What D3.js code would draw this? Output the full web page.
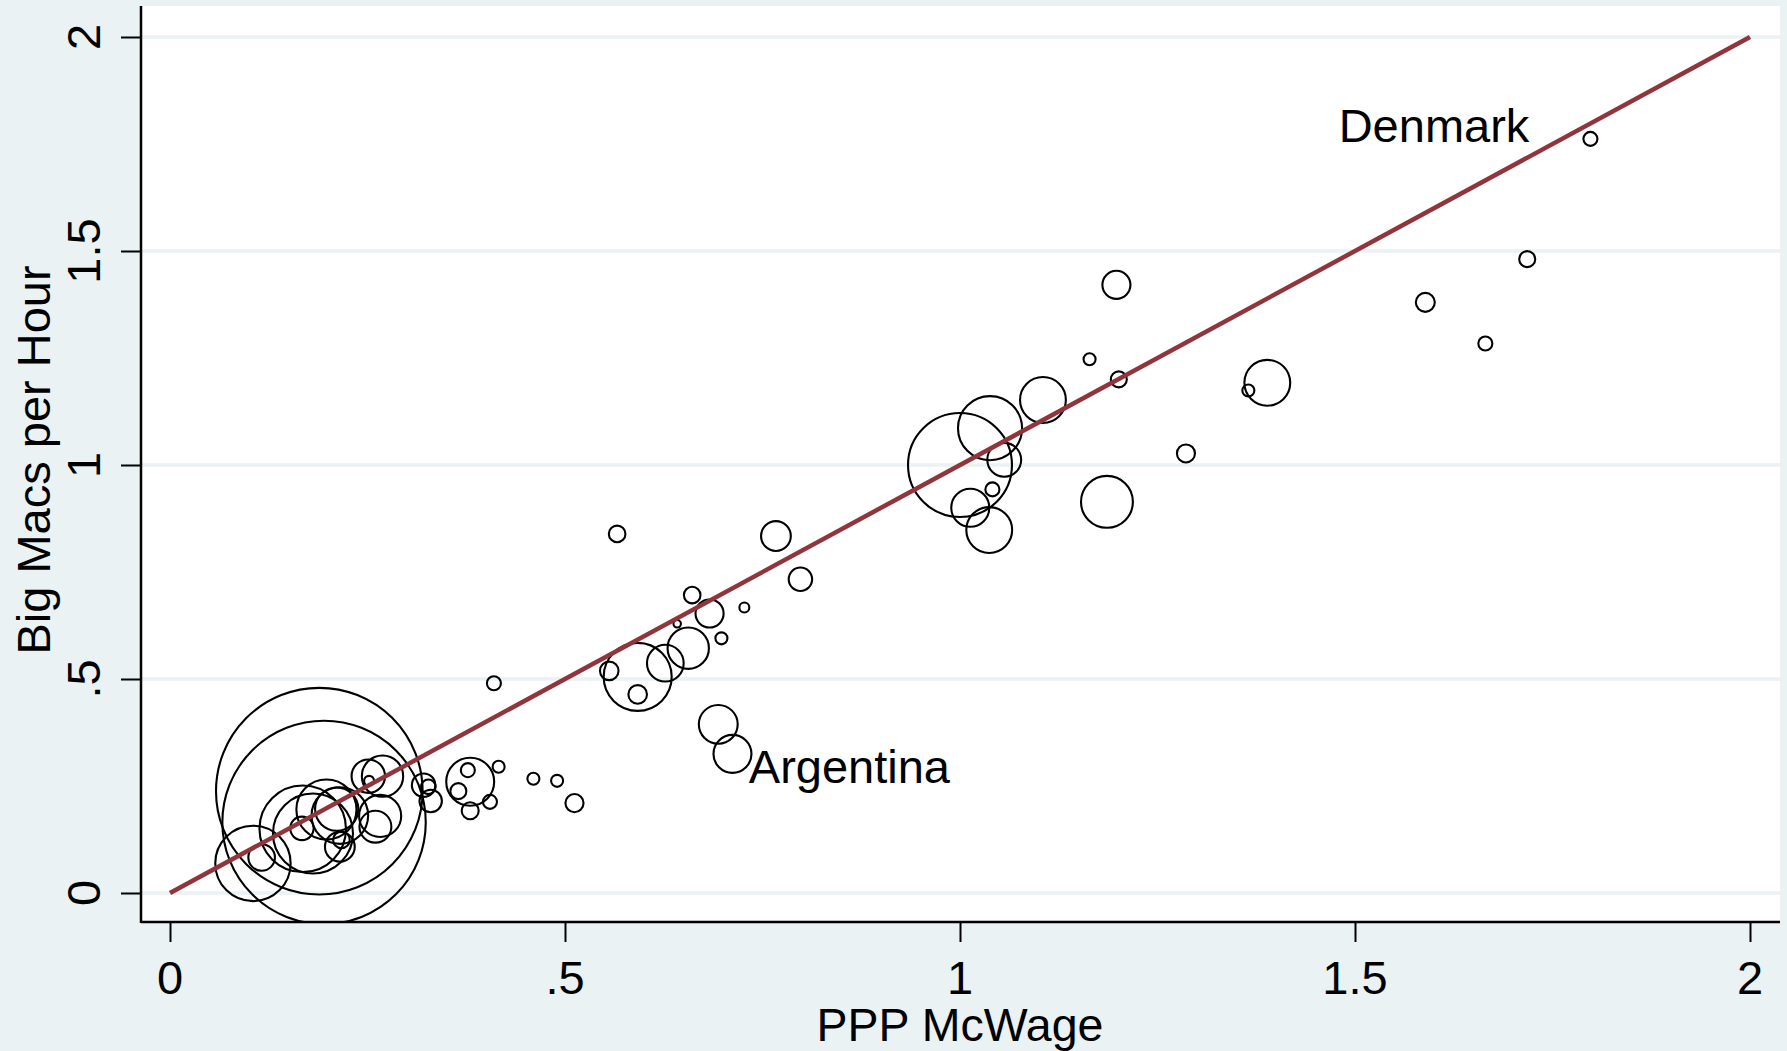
<!DOCTYPE html>
<html>
<head>
<meta charset="utf-8">
<script src="https://cdn.jsdelivr.net/npm/d3@7"></script>
<style>
  html, body { margin: 0; padding: 0; background: #eaf2f3; }
  svg { display: block; }
  text { font-family: "Liberation Sans", Arial, Helvetica, sans-serif; fill: #000; }
</style>
</head>
<body>
<svg id="chart" width="1787" height="1051"></svg>
<script>
// ---- data ----
const pppMcWage = [
  0.189, 0.195, 0.105, 0.116, 0.168, 0.181, 0.167, 0.198, 0.211, 0.215,
  0.215, 0.217, 0.251, 0.269, 0.252, 0.266, 0.260, 0.321, 0.327, 0.330,
  0.410, 0.460, 0.490, 0.512, 0.416, 0.380, 0.377, 0.365, 0.380, 0.405,
  0.566, 0.767, 0.798, 0.661, 0.683, 0.727, 0.642, 0.698, 0.656, 0.627,
  0.556, 0.592, 0.592, 0.694, 0.712, 1.198, 1.164, 1.201, 1.389, 1.365,
  1.105, 1.038, 1.000, 1.056, 1.286, 1.041, 1.013, 1.037, 1.186, 1.798,
  1.718, 1.589, 1.665
];
const bigMacsPerHour = [
  0.238, 0.165, 0.069, 0.083, 0.150, 0.139, 0.151, 0.195, 0.196, 0.181,
  0.108, 0.124, 0.273, 0.273, 0.262, 0.180, 0.155, 0.252, 0.248, 0.215,
  0.490, 0.267, 0.262, 0.210, 0.295, 0.260, 0.287, 0.238, 0.192, 0.213,
  0.839, 0.834, 0.733, 0.696, 0.653, 0.667, 0.629, 0.595, 0.572, 0.537,
  0.519, 0.505, 0.464, 0.394, 0.325, 1.421, 1.247, 1.200, 1.192, 1.174,
  1.152, 1.086, 1.000, 1.012, 1.027, 0.943, 0.900, 0.848, 0.914, 1.762,
  1.481, 1.380, 1.284
];
const population = [
  1300, 1260, 173, 21.5, 228, 195, 16.7, 110, 57, 97.6,
  27, 8.4, 34, 52, 3, 54, 31, 16.7, 6.5, 15.3,
  6, 4.4, 4.4, 10, 4.4, 70, 6, 7.8, 8.8, 6,
  8.4, 27, 16.7, 8.4, 24, 3, 1.7, 4.4, 52, 41,
  10.5, 141, 10.5, 46, 44, 24, 4.4, 7.8, 64, 4.4,
  64, 125, 329, 35, 9.9, 6, 44, 64, 82, 6,
  7.8, 11, 6
];
const tickValues = [0, 0.5, 1, 1.5, 2];
const tickLabels = ["0", ".5", "1", "1.5", "2"];
const refLineX = [0, 2];
const refLineY = [0, 2];
const labelNames = ["Denmark", "Argentina"];
const labelX = [1.6, 0.86];
const labelY = [1.795, 0.296];
const xTitle = "PPP McWage";
const yTitle = "Big Macs per Hour";

// ---- layout ----
const W = 1787, H = 1051;
const plot = { left: 141, right: 1780, top: 6, bottom: 922 };
const svg = d3.select("#chart");

const x = d3.scaleLinear().domain([0, 2]).range([170, 1750]);
const y = d3.scaleLinear().domain([0, 2]).range([893, 37]);
const r = d3.scaleSqrt().domain([0, 1300]).range([0, 103.3]);

// background
svg.append("rect").attr("x", 0).attr("y", 0).attr("width", W).attr("height", H).attr("fill", "#eaf2f3");
svg.append("rect")
  .attr("x", plot.left).attr("y", plot.top)
  .attr("width", plot.right - plot.left).attr("height", plot.bottom - plot.top)
  .attr("fill", "#ffffff");

// gridlines
svg.append("g").selectAll("line").data(tickValues).join("line")
  .attr("x1", plot.left).attr("x2", plot.right)
  .attr("y1", d => y(d)).attr("y2", d => y(d))
  .attr("stroke", "#eaf2f3").attr("stroke-width", 3.5);

// clip for marks
svg.append("clipPath").attr("id", "clip").append("rect")
  .attr("x", plot.left).attr("y", plot.top)
  .attr("width", plot.right - plot.left).attr("height", plot.bottom - plot.top);

const pts = pppMcWage.map((v, i) => ({ x: v, y: bigMacsPerHour[i], w: population[i] }));
svg.append("g").attr("clip-path", "url(#clip)")
  .selectAll("circle").data(pts).join("circle")
  .attr("cx", d => x(d.x)).attr("cy", d => y(d.y)).attr("r", d => r(d.w))
  .attr("fill", "none").attr("stroke", "#000").attr("stroke-width", 2.1);

// 45 degree line
const line = d3.line().x(d => x(d[0])).y(d => y(d[1]));
svg.append("path")
  .attr("d", line(refLineX.map((v, i) => [v, refLineY[i]])))
  .attr("fill", "none").attr("stroke", "#90353b").attr("stroke-width", 4.5);

// axes
const xAxis = d3.axisBottom(x).tickValues(tickValues).tickFormat((d, i) => tickLabels[i]).tickSize(20).tickPadding(0);
const gx = svg.append("g").attr("transform", `translate(0,${plot.bottom})`).call(xAxis);
gx.select(".domain").remove();
gx.selectAll(".tick line").attr("stroke", "#000").attr("stroke-width", 2);
gx.selectAll(".tick text").remove();
svg.append("g").selectAll("text").data(tickValues).join("text")
  .attr("x", d => x(d)).attr("y", 994)
  .attr("text-anchor", "middle").attr("font-size", 47)
  .text((d, i) => tickLabels[i]);

const yAxis = d3.axisLeft(y).tickValues(tickValues).tickFormat((d, i) => tickLabels[i]).tickSize(20).tickPadding(0);
const gy = svg.append("g").attr("transform", `translate(${plot.left},0)`).call(yAxis);
gy.select(".domain").remove();
gy.selectAll(".tick line").attr("stroke", "#000").attr("stroke-width", 2);
gy.selectAll(".tick text").remove();
svg.append("g").selectAll("text").data(tickValues).join("text")
  .attr("transform", d => `translate(100,${y(d)}) rotate(-90)`)
  .attr("text-anchor", "middle").attr("font-size", 47)
  .text((d, i) => tickLabels[i]);

// axis lines
svg.append("line").attr("x1", plot.left).attr("x2", plot.right)
  .attr("y1", plot.bottom).attr("y2", plot.bottom)
  .attr("stroke", "#000").attr("stroke-width", 2.5);
svg.append("line").attr("x1", plot.left).attr("x2", plot.left)
  .attr("y1", plot.top).attr("y2", plot.bottom + 1)
  .attr("stroke", "#000").attr("stroke-width", 2.5);

// titles
svg.append("text").attr("x", (x(0) + x(2)) / 2).attr("y", 1041)
  .attr("text-anchor", "middle").attr("font-size", 46.5).text(xTitle);
svg.append("text")
  .attr("transform", `translate(50,${(plot.top + plot.bottom) / 2 - 4}) rotate(-90)`)
  .attr("text-anchor", "middle").attr("font-size", 47).text(yTitle);

// annotations
svg.append("g").selectAll("text").data(labelNames).join("text")
  .attr("x", (d, i) => x(labelX[i])).attr("y", (d, i) => y(labelY[i]))
  .attr("dy", "0.36em")
  .attr("text-anchor", "middle").attr("font-size", 47)
  .text(d => d);
</script>
</body>
</html>
